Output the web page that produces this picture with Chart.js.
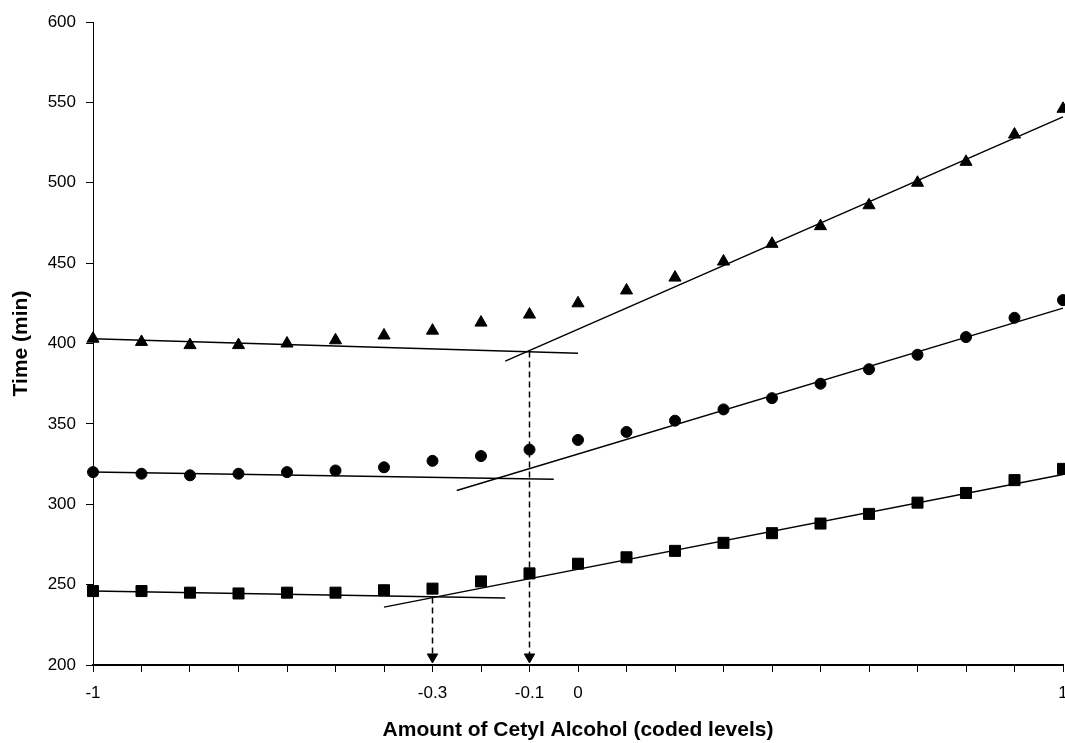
<!DOCTYPE html>
<html lang="en">
<head>
    <meta charset="UTF-8">
    <title>Time vs Amount of Cetyl Alcohol</title>
    <script src="https://cdn.jsdelivr.net/npm/chart.js"></script>
    <style>
        body { margin: 0; background: #fff; }
        #wrap { width: 1065px; height: 743px; position: relative; }
    </style>
</head>
<body>
    <div id="wrap"><canvas id="cetylChart"></canvas></div>
    <script>
        // coded levels of cetyl alcohol
        const xLevels = [-1, -0.9, -0.8, -0.7, -0.6, -0.5, -0.4, -0.3, -0.2, -0.1, 0,
                         0.1, 0.2, 0.3, 0.4, 0.5, 0.6, 0.7, 0.8, 0.9, 1];
        // measured times (min)
        const triangles = [403, 401, 399, 399, 400, 402, 405, 408, 413, 418, 425,
                           433, 441, 451, 462, 473, 486, 500, 513, 530, 546];
        const circles = [320, 319, 318, 319, 320, 321, 323, 327, 330, 334, 340,
                         345, 352, 359, 366, 375, 384, 393, 404, 416, 427];
        const squares = [246, 246, 245, 244.5, 245, 245, 246.5, 247.5, 252, 257, 263,
                         267, 271, 276, 282, 288, 294, 301, 307, 315, 322];

        // fitted straight lines: [x start, x end] and [y start, y end]
        const triFlatX = [-1, 0], triFlatY = [403, 394];
        const triSlopeX = [-0.15, 1], triSlopeY = [389, 541];
        const cirFlatX = [-1, -0.05], cirFlatY = [320, 315.5];
        const cirSlopeX = [-0.25, 1], cirSlopeY = [308.5, 422];
        const sqFlatX = [-1, -0.15], sqFlatY = [246, 241.7];
        const sqSlopeX = [-0.4, 1], sqSlopeY = [236, 318.5];

        // break points marked with dashed arrows
        const breakX = [-0.3, -0.1];
        const breakTopY = [242, 395];
        const arrowY = 205;

        const xLabelled = [-1, -0.3, -0.1, 0, 1];
        const yTicks = [200, 250, 300, 350, 400, 450, 500, 550, 600];

        Chart.defaults.font.family = "'Liberation Sans', Arial, sans-serif";
        Chart.defaults.color = '#000';

        const pts = (xs, ys) => xs.map((x, i) => ({ x: x, y: ys[i] }));

        function markers(ys, style, r) {
            return {
                data: pts(xLevels, ys), showLine: false, pointStyle: style,
                pointRadius: r, backgroundColor: '#000', borderColor: '#000',
                borderWidth: 1, clip: false
            };
        }
        function fitLine(xs, ys) {
            return {
                data: pts(xs, ys), showLine: true, pointRadius: 0,
                borderColor: '#000', borderWidth: 1.5, clip: false
            };
        }

        const datasets = [
            markers(triangles, 'triangle', 7),
            markers(circles, 'circle', 5.5),
            markers(squares, 'rect', 7.8),
            fitLine(triFlatX, triFlatY), fitLine(triSlopeX, triSlopeY),
            fitLine(cirFlatX, cirFlatY), fitLine(cirSlopeX, cirSlopeY),
            fitLine(sqFlatX, sqFlatY), fitLine(sqSlopeX, sqSlopeY)
        ];
        breakX.forEach((bx, i) => {
            datasets.push({
                data: [{ x: bx, y: breakTopY[i] }, { x: bx, y: arrowY }],
                showLine: true, pointRadius: 0, borderColor: '#000',
                borderWidth: 1.5, borderDash: [6, 4], clip: false
            });
            datasets.push({
                data: [{ x: bx, y: arrowY }], showLine: false, pointStyle: 'triangle',
                rotation: 180, pointRadius: 6, backgroundColor: '#000',
                borderColor: '#000', borderWidth: 1, clip: false
            });
        });

        new Chart(document.getElementById('cetylChart'), {
            type: 'scatter',
            data: { datasets: datasets },
            options: {
                responsive: true,
                maintainAspectRatio: false,
                animation: false,
                layout: { autoPadding: false, padding: { top: 22, right: 2, bottom: 0, left: 0 } },
                plugins: { legend: { display: false }, tooltip: { enabled: false } },
                scales: {
                    x: {
                        type: 'linear', min: -1, max: 1,
                        border: { color: '#000', width: 2 },
                        grid: { drawOnChartArea: false, tickLength: 7, tickWidth: 1, tickColor: '#000' },
                        ticks: {
                            stepSize: 0.1, padding: 11, maxRotation: 0, autoSkip: false,
                            font: { size: 17 },
                            callback: function (v) {
                                const r = Math.round(v * 10) / 10;
                                return xLabelled.includes(r) ? String(r) : '';
                            }
                        },
                        title: {
                            display: true, text: 'Amount of Cetyl Alcohol (coded levels)',
                            font: { size: 21, weight: 'bold' }, padding: { top: 0, bottom: 0 }
                        },
                        afterFit: function (scale) {
                            scale.height = 78;
                            scale.paddingRight = 2;
                        }
                    },
                    y: {
                        type: 'linear', min: 200, max: 600,
                        border: { color: '#000', width: 1 },
                        grid: { drawOnChartArea: false, tickLength: 7, tickWidth: 1, tickColor: '#000' },
                        afterBuildTicks: function (scale) {
                            scale.ticks = yTicks.map(v => ({ value: v }));
                        },
                        ticks: { padding: 10, font: { size: 17 } },
                        title: {
                            display: true, text: 'Time (min)',
                            font: { size: 21, weight: 'bold' }, padding: { top: 9, bottom: 0 }
                        },
                        afterFit: function (scale) {
                            scale.width = 93;
                        }
                    }
                }
            }
        });
    </script>
</body>
</html>
